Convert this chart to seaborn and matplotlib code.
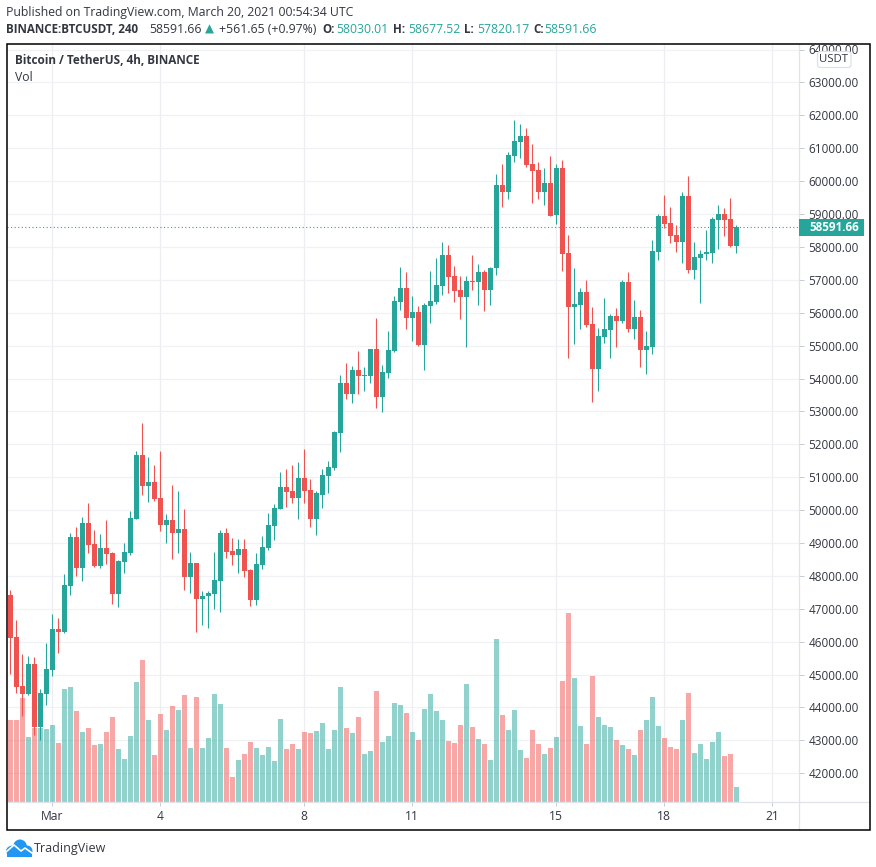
import numpy as np
import pandas as pd
import matplotlib
matplotlib.use("Agg")
import matplotlib.pyplot as plt
from matplotlib.patches import Rectangle, FancyBboxPatch, Ellipse
from matplotlib.lines import Line2D
import seaborn as sns

highs = [47586,46647,45617,45556,45526,44556,45950,46829,46707,48071,49313,49495,49798,50222,49404,49283,49707,48737,48495,49010,
49980,51798,52646,51616,51374,51798,49889,50768,50586,50040,48737,48404,47556,47556,48737,49404,49465,49162,49131,49131,
48222,48707,49222,49920,50193,51162,51253,51374,51465,51859,50950,50587,51253,51496,52405,54102,54465,54374,54829,54344,
54889,55829,54404,55435,56495,57374,57222,56495,56192,56283,57253,57677,58162,58071,57434,57101,57101,57768,57495,57313,
57404,60223,60526,60889,61859,61738,61617,61132,60586,60405,60768,60526,60647,58375,57344,56738,56981,56163,55526,56435,
55951,56132,56981,57223,56375,56072,55435,58223,59011,59587,59223,58678,59677,60162,58163,57920,58526,58920,59284,59193,
59496,58677.52]
lows = [45010,44435,43738,44374,43162,43011,44071,44950,45647,46253,47434,48010,47859,48707,48283,48253,48374,47132,47041,48101,
48647,49737,50465,50252,50283,49374,49010,48525,48707,47586,47495,46283,46495,46404,46980,46889,48556,48343,48101,47980,
47071,47101,48222,48799,49102,50041,50102,50223,49738,50223,49496,49254,50072,50526,51223,51768,53374,53253,53526,53617,
53859,53102,52980,54011,54798,56071,55495,55132,54980,54253,55677,56253,56526,56586,56313,55798,54950,56677,56222,56041,
56222,57132,59223,59465,60586,60708,60435,59344,59465,59283,58950,58708,57253,54617,55042,55496,55557,53284,53618,55072,
54617,54951,55678,55405,55193,54345,54132,54739,57617,58587,58132,57859,57496,57193,57011,56284,57617,57496,57950,58344,
58011,57820.17]
opens = [47434,46132,44647,44405,45314,43405,44405,45132,46374,46283,47707,49192,48253,49616,48980,48313,48859,48707,47465,48434,
48707,49737,51677,50737,50859,50374,49556,49707,49313,49434,47980,48404,47283,47374,47465,47859,49313,48768,48647,48828,
48192,47253,48343,48860,49526,50041,50708,50587,50375,50981,50617,49738,50466,51041,51284,52344,53859,53526,54253,54071,
54071,54889,53435,54162,54829,56313,56738,55829,56010,55010,56192,56313,56798,57768,57101,56677,56465,56950,56919,57222,
56677,57344,59889,59677,60768,61192,61374,60526,60344,59677,59950,58981,60405,57829,56163,56223,56617,55648,54284,55254,
55466,55890,55738,56920,55496,55860,54860,54951,57859,58950,58738,58375,58163,59556,57284,57648,57769,57829,58829,59011,
58859,58030.01]
closes = [46101,44617,44405,45314,43405,44435,45162,46374,46283,47738,49192,48253,49616,48950,48313,48859,48677,47465,48465,48737,
49768,51677,50737,50859,50344,49556,49707,49313,49434,47980,48404,47283,47404,47495,47889,49313,48737,48647,48828,48162,
47253,48374,48889,49556,50072,50708,50556,50375,50981,50587,49738,50526,51071,51314,52374,53859,53526,54253,54071,54102,
54889,53435,54192,54859,56344,56738,55829,56010,55010,56222,56344,56829,57768,57071,56647,56465,56950,56919,57222,56677,
57344,59889,59677,60799,61223,61374,60496,60314,59677,59950,58950,60405,57799,56163,56254,56617,55617,54284,55284,55496,
55890,55738,56920,55496,55860,54860,54981,57890,58950,58708,58344,58163,59556,57284,57678,57799,57859,58859,59011,58829,
58041,58591.66]
volumes = [246,246,312,195,222,222,219,231,177,339,345,273,210,222,171,174,210,255,159,129,
198,360,426,246,141,264,216,288,276,321,162,315,162,192,324,294,162,75,126,144,
180,162,141,165,123,249,159,174,159,210,207,213,237,159,216,345,222,207,255,144,
153,333,180,198,297,291,267,210,186,279,324,273,246,183,177,231,354,225,189,174,
126,489,261,216,276,156,132,216,174,144,162,195,363,567,372,228,174,378,255,231,
225,186,171,159,141,216,246,315,228,192,165,159,246,327,147,174,129,180,210,138,
144,45]
price_ticks = list(range(42000, 65000, 1000))
date_positions = [7, 25, 49, 67, 91, 109, 127]
date_labels = ["Mar", "4", "8", "11", "15", "18", "21"]
last_price = 58591.66

UP, DOWN = "#26a69a", "#f0534f"
TXT = "#333742"
W, H = 876, 867

sns.set_theme(style="white")
plt.rcParams["font.family"] = ["Open Sans", "DejaVu Sans"]

df = pd.DataFrame({"i": np.arange(len(opens)), "o": opens, "h": highs, "l": lows, "c": closes, "v": volumes})
df["dir"] = np.where(df.c >= df.o, "up", "down")
df["low"] = df[["o", "c"]].min(axis=1)
df["height"] = (df.o - df.c).abs().clip(lower=30)

fig = plt.figure(figsize=(W / 100, H / 100), dpi=100, facecolor="white")
L, R, T, B = 7, 799.3, 44, 802
rect = [L / W, 1 - B / H, (R - L) / W, (B - T) / H]
XLIM = ((L - 10.3) / 6, (R - 10.3) / 6)
YLIM = (42000 - (802 - 773.3) / 0.0329, 42000 + (773.3 - 44) / 0.0329)

ax = fig.add_axes(rect, zorder=0)
ax_v = fig.add_axes(rect, zorder=1)
ax_c = fig.add_axes(rect, zorder=2)

# price frame
ax.set_facecolor("white")
for s in ax.spines.values():
    s.set_visible(False)
ax.yaxis.tick_right()
ax.set_yticks(price_ticks, [f"{p}.00" for p in price_ticks])
ax.set_xticks(date_positions, date_labels)
ax.tick_params(axis="y", length=3.6, width=0.72, color="#c8cbd2", labelsize=8.5, labelcolor=TXT, pad=3, right=True)
ax.tick_params(axis="x", length=2.9, width=0.72, color="#c8cbd2", labelsize=8.7, labelcolor=TXT, pad=3, bottom=True)
ax.grid(True, axis="y", color="#f0f1f4", lw=0.9)
ax.grid(True, axis="x", color="#eceef1", lw=0.9)
ax.set_axisbelow(True)
ax.axhline(last_price, color=UP, lw=0.8, ls=(0, (1, 2.2)), zorder=1)

# volume
sns.barplot(data=df, x="i", y="v", hue="dir", palette={"up": UP, "down": DOWN}, native_scale=True,
            dodge=False, width=0.83, saturation=1, alpha=0.5, errorbar=None, legend=False,
            linewidth=0, ax=ax_v)
ax_v.set_ylim(0, (B - T) * 3)
ax_v.axis("off")

# candles
ax_c.vlines(df.i[df.dir == "up"], df.l[df.dir == "up"], df.h[df.dir == "up"], color=UP, lw=0.8)
ax_c.vlines(df.i[df.dir == "down"], df.l[df.dir == "down"], df.h[df.dir == "down"], color=DOWN, lw=0.8)
for d, col in (("up", UP), ("down", DOWN)):
    sub = df[df.dir == d]
    sns.barplot(data=sub, x="i", y="height", bottom=sub.low.values, color=col, native_scale=True,
                width=0.83, saturation=1, errorbar=None, linewidth=0, ax=ax_c, zorder=3)
ax_c.axis("off")

for a in (ax, ax_v, ax_c):
    a.set_xlim(*XLIM)
    a.set_xlabel("")
    a.set_ylabel("")
for a in (ax, ax_c):
    a.set_ylim(*YLIM)
ax_v.patch.set_visible(False)
ax_c.patch.set_visible(False)


def fx(p):
    return p / W


def fy(p):
    return 1 - p / H


def put(px, py, s, **kw):
    kw.setdefault("va", "center")
    kw.setdefault("color", TXT)
    kw.setdefault("fontsize", 8.8)
    return fig.text(fx(px), fy(py), s, **kw)


# chrome lines
fig.add_artist(Line2D([fx(R), fx(R)], [fy(T), fy(830)], color="#e0e3eb", lw=0.9))
fig.add_artist(Line2D([fx(L), fx(869)], [fy(B), fy(B)], color="#e0e3eb", lw=0.9))
fig.add_artist(Rectangle((fx(6.5), fy(830)), (869.5 - 6.5) / W, (830 - 43.5) / H, fill=False, ec="black", lw=1.1, zorder=6))

# header
put(6, 12.5, "Published on TradingView.com, March 20, 2021 00:54:34 UTC")
put(6, 29.5, "BINANCE:BTCUSDT, 240", fontweight="bold", fontsize=8.4)
put(149, 29.5, "58591.66")
put(204.5, 29.5, "▲", color=UP, fontsize=8.5)
put(219, 29.5, "+561.65 (+0.97%)")
for x0, lab, x1, val in ((322, "O:", 336, "58030.01"), (393, "H:", 408, "58677.52"),
                         (464, "L:", 477, "57820.17"), (533, "C:", 544, "58591.66")):
    put(x0, 29.5, lab, fontweight="bold", fontsize=8.4)
    put(x1, 29.5, val, color=UP)
put(15, 60.5, "Bitcoin / TetherUS, 4h, BINANCE", fontweight="bold", fontsize=8.5)
put(15, 77.5, "Vol")

# axis badges
fig.add_artist(Rectangle((fx(R), fy(236)), (864 - R) / W, 17 / H, fc=UP, ec="none", zorder=5))
put(809, 227.5, "58591.66", color="white", fontweight="bold", fontsize=8.4, zorder=6)
fig.add_artist(FancyBboxPatch((fx(817.5), fy(67.5)), 33.5 / W, 16 / H, boxstyle="round,pad=0,rounding_size=0.003",
                              fc="white", ec="#dfe1e8", lw=0.9, zorder=5))
put(834, 59.5, "USDT", ha="center", fontsize=8.2, zorder=6)

# logo
LOGO = "#2196f3"
for cx, cy, w, h in ((13, 851, 14, 11), (20, 847, 14, 15), (27, 851, 11, 11)):
    fig.add_artist(Ellipse((fx(cx), fy(cy)), w / W, h / H, fc=LOGO, ec="none", zorder=5))
fig.add_artist(Rectangle((fx(7), fy(857)), 25 / W, 5 / H, fc=LOGO, ec="none", zorder=5))
fig.add_artist(Line2D([fx(6), fx(14), fx(21), fx(25), fx(32)], [fy(852), fy(845), fy(851), fy(848), fy(853)],
                      color="white", lw=1.2, zorder=6))
put(34, 848.5, "TradingView", fontsize=9)

fig.savefig("out.png", dpi=100)
